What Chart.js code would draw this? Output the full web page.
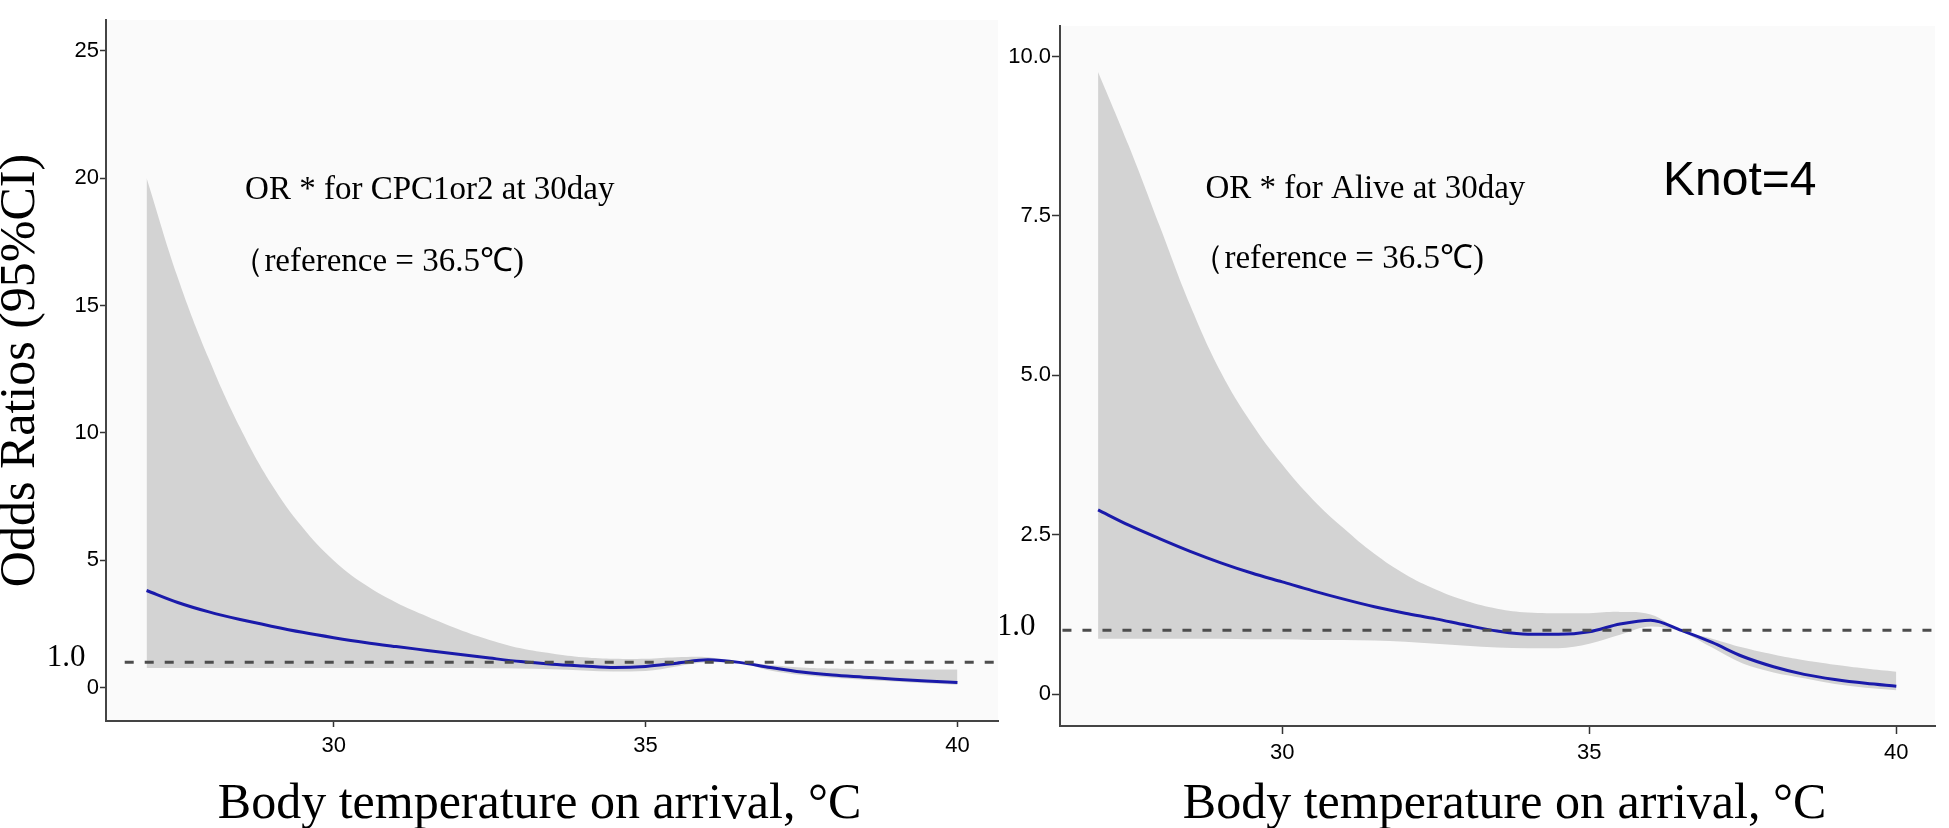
<!DOCTYPE html>
<html>
<head>
<meta charset="utf-8">
<script src="https://cdn.jsdelivr.net/npm/chart.js@4.4.1/dist/chart.umd.min.js"></script>
<style>
  body { margin: 0; background: #fff; }
  #wrap { position: relative; width: 1949px; height: 828px; overflow: hidden; }
  canvas { position: absolute; top: 0; }
  #cpc { left: 0; }
  #alive { left: 1000px; }
</style>
</head>
<body>
<div id="wrap">
  <canvas id="cpc" width="1000" height="828"></canvas>
  <canvas id="alive" width="949" height="828"></canvas>
</div>
<script>
// Body temperature grid (°C)
const temps = [27, 27.5, 28, 28.5, 29, 29.5, 30, 30.5, 31, 31.5, 32, 32.5, 33, 33.5,
               34, 34.5, 35, 35.5, 36, 36.5, 37, 37.5, 38, 38.5, 39, 39.5, 40];

// Left panel: OR for CPC1or2 at 30day
const cpcOR    = [3.82, 3.35, 2.98, 2.68, 2.42, 2.18, 1.97, 1.78, 1.62, 1.47, 1.32, 1.17, 1.03, 0.93,
                  0.86, 0.80, 0.84, 0.97, 1.10, 1.00, 0.80, 0.62, 0.50, 0.42, 0.34, 0.27, 0.21];
const cpcLower = [0.78, 0.78, 0.78, 0.78, 0.78, 0.78, 0.78, 0.78, 0.78, 0.78, 0.78, 0.77, 0.76, 0.73,
                  0.68, 0.64, 0.66, 0.84, 1.00, 0.98, 0.68, 0.50, 0.40, 0.32, 0.25, 0.18, 0.12];
const cpcUpper = [20.0, 16.1, 12.9, 10.2, 8.0, 6.3, 5.0, 4.05, 3.35, 2.8, 2.3, 1.88, 1.55, 1.35,
                  1.2, 1.14, 1.14, 1.2, 1.2, 1.02, 0.9, 0.8, 0.76, 0.74, 0.73, 0.72, 0.72];
const cpcTicks = [0, 5, 10, 15, 20, 25];
const cpcTickLabels = ['0', '5', '10', '15', '20', '25'];

// Right panel: OR for Alive at 30day
const aliveOR    = [2.89, 2.65, 2.44, 2.24, 2.06, 1.90, 1.76, 1.62, 1.49, 1.37, 1.27, 1.18, 1.08, 0.99,
                    0.94, 0.94, 0.98, 1.10, 1.16, 1.00, 0.81, 0.59, 0.43, 0.31, 0.23, 0.17, 0.125];
const aliveLower = [0.87, 0.87, 0.87, 0.87, 0.87, 0.86, 0.86, 0.85, 0.85, 0.84, 0.82, 0.79, 0.76, 0.73,
                    0.72, 0.72, 0.79, 0.93, 1.06, 0.98, 0.73, 0.48, 0.34, 0.25, 0.16, 0.10, 0.06];
const aliveUpper = [9.76, 8.6, 7.35, 6.1, 5.05, 4.25, 3.6, 3.05, 2.6, 2.2, 1.88, 1.64, 1.46, 1.34,
                    1.28, 1.27, 1.27, 1.29, 1.25, 1.00, 0.87, 0.73, 0.62, 0.53, 0.46, 0.40, 0.35];
const aliveTicks = [0, 2.5, 5, 7.5, 10];
const aliveTickLabels = ['0', '2.5', '5.0', '7.5', '10.0'];

const xTicks = [30, 35, 40];
const refOR = 1.0;

const SERIF = '"Liberation Serif", "Times New Roman", serif';
const SANS = '"Liberation Sans", Arial, sans-serif';
const X_TITLE = 'Body temperature on arrival, °C';

function pts(ys) {
    return temps.map((t, i) => ({ x: t, y: ys[i] }));
}

// light grey panel behind the plot
const panelBg = {
    id: 'panelBg',
    beforeDraw(chart) {
        const { ctx, chartArea: a } = chart;
        ctx.save();
        ctx.fillStyle = '#fafafa';
        ctx.fillRect(a.left, a.top, a.right - a.left, a.bottom - a.top);
        ctx.restore();
    }
};

// free text placed in data coordinates
function notesPlugin(items) {
    return {
        id: 'notes',
        afterDraw(chart) {
            const { ctx, scales } = chart;
            ctx.save();
            items.forEach(n => {
                ctx.font = n.font;
                ctx.fillStyle = '#000';
                ctx.textAlign = n.align || 'left';
                ctx.textBaseline = 'alphabetic';
                ctx.fillText(n.text, scales.x.getPixelForValue(n.x), scales.y.getPixelForValue(n.y));
            });
            ctx.restore();
        }
    };
}

function makeChart(id, p) {
    const ctx = document.getElementById(id).getContext('2d');
    return new Chart(ctx, {
        type: 'line',
        data: {
            datasets: [
                { data: pts(p.upper), borderWidth: 0, pointRadius: 0, fill: 1,
                  backgroundColor: '#d3d3d3', tension: 0.4, order: 3 },
                { data: pts(p.lower), borderWidth: 0, pointRadius: 0, fill: false,
                  cubicInterpolationMode: 'monotone', order: 2 },
                { data: pts(p.or), borderColor: '#1a1aaa', borderWidth: 3, pointRadius: 0, fill: false,
                  cubicInterpolationMode: 'monotone', order: 1 },
                { data: p.refX.map(x => ({ x: x, y: refOR })), borderColor: '#4d4d4d', borderWidth: 3,
                  borderDash: [9, 11], pointRadius: 0, fill: false, order: 0 }
            ]
        },
        options: {
            responsive: false,
            animation: false,
            layout: { padding: { top: p.padTop, right: p.padRight, left: 0, bottom: 0 } },
            plugins: { legend: { display: false }, tooltip: { enabled: false } },
            scales: {
                x: {
                    type: 'linear',
                    min: p.xMin, max: p.xMax,
                    afterBuildTicks: s => { s.ticks = xTicks.map(v => ({ value: v })); },
                    afterFit: s => { s.height = p.xAxisH; },
                    grid: { drawOnChartArea: false, tickLength: p.tickLen, tickColor: '#333', tickWidth: 1.5 },
                    border: { color: '#444', width: 2 },
                    ticks: { color: '#000', padding: 6, font: { family: SANS, size: 22 }, maxRotation: 0,
                             callback: v => String(v) }
                },
                y: {
                    min: p.yMin, max: p.yMax,
                    afterBuildTicks: s => { s.ticks = p.ticks.map(v => ({ value: v })); },
                    afterFit: s => { s.width = p.yAxisW; },
                    grid: { drawOnChartArea: false, tickLength: p.tickLen, tickColor: '#333', tickWidth: 1.5 },
                    border: { color: '#444', width: 2 },
                    ticks: { color: '#000', padding: 1, font: { family: SANS, size: 22 },
                             callback: (v, i) => p.tickLabels[i] },
                    title: { display: p.yTitle !== '', text: p.yTitle, color: '#000', padding: 0,
                             font: { family: SERIF, size: 50, lineHeight: 0.85 } }
                }
            }
        },
        plugins: [panelBg, notesPlugin(p.notes)]
    });
}

makeChart('cpc', {
    upper: cpcUpper, lower: cpcLower, or: cpcOR,
    ticks: cpcTicks, tickLabels: cpcTickLabels,
    xMin: 26.35, xMax: 40.65, yMin: -1.3, yMax: 26.2,
    refX: [26.65, 40.65],
    padTop: 20, padRight: 2, xAxisH: 107, yAxisW: 106, tickLen: 6,
    yTitle: 'Odds Ratios (95%CI)',
    notes: [
        { text: 'OR * for CPC1or2 at 30day', x: 28.58, y: 19.19, font: '33px ' + SERIF },
        { text: '（reference = 36.5℃)', x: 28.36, y: 16.37, font: '33px ' + SERIF },
        { text: '1.0', x: 26.02, y: 0.86, font: '31px ' + SERIF, align: 'right' },
        { text: X_TITLE, x: 33.30, y: -5.10, font: '50px ' + SERIF, align: 'center' }
    ]
});

makeChart('alive', {
    upper: aliveUpper, lower: aliveLower, or: aliveOR,
    ticks: aliveTicks, tickLabels: aliveTickLabels,
    xMin: 26.38, xMax: 40.63, yMin: -0.5, yMax: 10.48,
    refX: [26.42, 40.63],
    padTop: 26, padRight: 14, xAxisH: 102, yAxisW: 60, tickLen: 8,
    yTitle: '',
    notes: [
        { text: 'OR * for Alive at 30day', x: 28.75, y: 7.78, font: '33px ' + SERIF },
        { text: '（reference = 36.5℃)', x: 28.52, y: 6.68, font: '33px ' + SERIF },
        { text: 'Knot=4', x: 36.2, y: 7.83, font: '48px ' + SANS },
        { text: '1.0', x: 25.98, y: 0.93, font: '31px ' + SERIF, align: 'right' },
        { text: X_TITLE, x: 33.62, y: -1.946, font: '50px ' + SERIF, align: 'center' }
    ]
});
</script>
</body>
</html>
